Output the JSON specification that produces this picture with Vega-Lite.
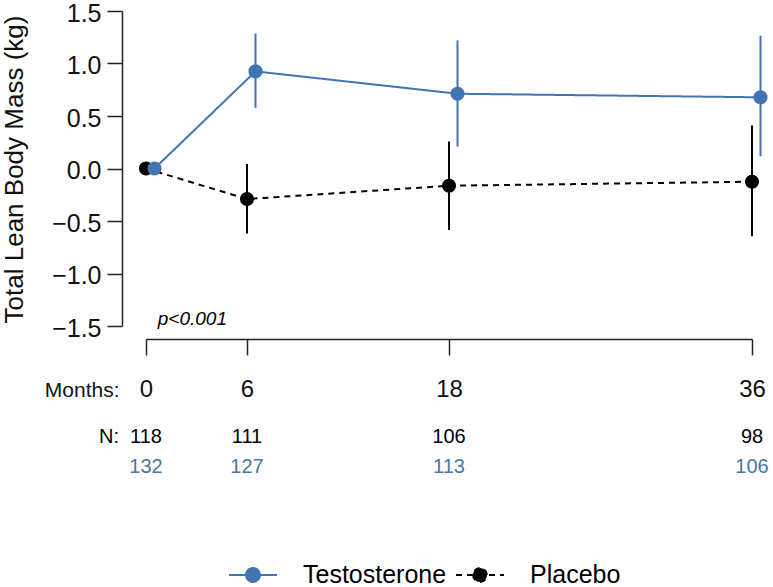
{
  "$schema": "https://vega.github.io/schema/vega-lite/v6.json",
  "width": 606,
  "height": 315,
  "autosize": {"type": "none"},
  "padding": {"left": 146, "top": 11, "right": 21, "bottom": 261},
  "background": "white",
  "config": {
    "font": "Liberation Sans",
    "view": {"stroke": null},
    "axis": {"grid": false, "domainColor": "#222222", "tickColor": "#222222", "labelColor": "#111111", "titleColor": "#111111", "titleFontWeight": "normal", "domainWidth": 1.5, "tickWidth": 1.5}
  },
  "datasets": {
    "stats": [
      {"month": 0, "group": "Placebo", "mean": 0, "lo": 0, "hi": 0, "n": 118},
      {"month": 6, "group": "Placebo", "mean": -0.291, "lo": -0.619, "hi": 0.043, "n": 111},
      {"month": 18, "group": "Placebo", "mean": -0.164, "lo": -0.585, "hi": 0.256, "n": 106},
      {"month": 36, "group": "Placebo", "mean": -0.126, "lo": -0.646, "hi": 0.41, "n": 98},
      {"month": 0, "group": "Testosterone", "mean": 0, "lo": 0, "hi": 0, "n": 132},
      {"month": 6, "group": "Testosterone", "mean": 0.925, "lo": 0.578, "hi": 1.285, "n": 127},
      {"month": 18, "group": "Testosterone", "mean": 0.712, "lo": 0.208, "hi": 1.22, "n": 113},
      {"month": 36, "group": "Testosterone", "mean": 0.678, "lo": 0.116, "hi": 1.265, "n": 106}
    ],
    "labels": [
      {"label": "N:"}
    ],
    "pval": [
      {"label": "p<0.001"}
    ]
  },
  "data": {"name": "stats"},
  "layer": [
    {
      "transform": [{"filter": "datum.group === 'Placebo'"}],
      "mark": {"type": "rule", "strokeWidth": 2, "color": "#000000"},
      "encoding": {
        "x": {
          "field": "month", "type": "quantitative",
          "scale": {"domain": [0, 36], "nice": false, "zero": false},
          "axis": {
            "values": [0, 6, 18, 36], "offset": 13, "tickSize": 16, "labelFontSize": 24, "labelPadding": 22, "labelFlush": false,
            "title": "Months:", "titleFontSize": 21, "titleX": -27, "titleY": 57, "titleAlign": "right", "titleBaseline": "alphabetic", "titleAnchor": null
          }
        },
        "y": {
          "field": "lo", "type": "quantitative",
          "scale": {"domain": [-1.5, 1.5], "nice": false, "zero": false},
          "axis": {
            "values": [-1.5, -1, -0.5, 0, 0.5, 1, 1.5], "format": ".1f", "offset": 24, "tickSize": 15, "labelFontSize": 25, "labelPadding": 6, "labelOffset": 2,
            "title": "Total Lean Body Mass (kg)", "titleFontSize": 26, "titleAngle": -90, "titleX": -100, "titleY": 158, "titleAlign": "center", "titleBaseline": "alphabetic"
          }
        },
        "y2": {"field": "hi"}
      }
    },
    {
      "transform": [{"filter": "datum.group === 'Placebo'"}],
      "mark": {"type": "line", "strokeWidth": 2},
      "encoding": {
        "x": {"field": "month", "type": "quantitative"},
        "y": {"field": "mean", "type": "quantitative"},
        "color": {
          "field": "group", "type": "nominal",
          "scale": {"domain": ["Testosterone", "Placebo"], "range": ["#4274b3", "#000000"]},
          "legend": {
            "title": null, "orient": "none", "direction": "horizontal", "legendX": 82, "legendY": 539, "padding": 0,
            "symbolType": "M-1,0L1,0M-0.29,0A0.29,0.29 0 1,0 0.29,0A0.29,0.29 0 1,0 -0.29,0Z",
            "symbolSize": 2304, "symbolStrokeWidth": 2, "labelFontSize": 25, "labelOffset": 25, "columnPadding": 5, "labelColor": "#000000",
            "encode": {"symbols": {"update": {"fill": {"scale": "color", "field": "value"}, "fillOpacity": {"value": 1}, "opacity": {"value": 1}}}}
          }
        },
        "strokeDash": {
          "field": "group", "type": "nominal",
          "scale": {"domain": ["Testosterone", "Placebo"], "range": [[1, 0], [6, 5]]},
          "legend": {
            "title": null, "orient": "none", "direction": "horizontal", "legendX": 82, "legendY": 539, "padding": 0,
            "symbolType": "M-1,0L1,0M-0.29,0A0.29,0.29 0 1,0 0.29,0A0.29,0.29 0 1,0 -0.29,0Z",
            "symbolSize": 2304, "symbolStrokeWidth": 2, "labelFontSize": 25, "labelOffset": 25, "columnPadding": 5, "labelColor": "#000000",
            "encode": {"symbols": {"update": {"fill": {"scale": "color", "field": "value"}, "fillOpacity": {"value": 1}, "opacity": {"value": 1}}}}
          }
        }
      }
    },
    {
      "transform": [{"filter": "datum.group === 'Placebo'"}],
      "mark": {"type": "point", "filled": true, "opacity": 1, "size": 200, "color": "#000000"},
      "encoding": {
        "x": {"field": "month", "type": "quantitative"},
        "y": {"field": "mean", "type": "quantitative"}
      }
    },
    {
      "transform": [{"filter": "datum.group === 'Testosterone'"}],
      "mark": {"type": "rule", "strokeWidth": 2, "color": "#4274b3", "xOffset": 8.5},
      "encoding": {
        "x": {"field": "month", "type": "quantitative"},
        "y": {"field": "lo", "type": "quantitative"},
        "y2": {"field": "hi"}
      }
    },
    {
      "transform": [{"filter": "datum.group === 'Testosterone'"}],
      "mark": {"type": "line", "strokeWidth": 2, "xOffset": 8.5},
      "encoding": {
        "x": {"field": "month", "type": "quantitative"},
        "y": {"field": "mean", "type": "quantitative"},
        "color": {"field": "group", "type": "nominal"},
        "strokeDash": {"field": "group", "type": "nominal"}
      }
    },
    {
      "transform": [{"filter": "datum.group === 'Testosterone'"}],
      "mark": {"type": "point", "filled": true, "opacity": 1, "size": 200, "color": "#4274b3", "xOffset": 8.5},
      "encoding": {
        "x": {"field": "month", "type": "quantitative"},
        "y": {"field": "mean", "type": "quantitative"}
      }
    },
    {
      "transform": [{"filter": "datum.group === 'Placebo'"}],
      "mark": {"type": "text", "fontSize": 20, "color": "#000000", "baseline": "middle", "align": "center"},
      "encoding": {
        "x": {"field": "month", "type": "quantitative"},
        "y": {"datum": -2.554},
        "text": {"field": "n", "type": "quantitative"}
      }
    },
    {
      "transform": [{"filter": "datum.group === 'Testosterone'"}],
      "mark": {"type": "text", "fontSize": 20, "color": "#4a78a0", "baseline": "middle", "align": "center"},
      "encoding": {
        "x": {"field": "month", "type": "quantitative"},
        "y": {"datum": -2.846},
        "text": {"field": "n", "type": "quantitative"}
      }
    },
    {
      "data": {"name": "labels"},
      "mark": {"type": "text", "fontSize": 20, "color": "#000000", "baseline": "middle", "align": "right"},
      "encoding": {
        "x": {"datum": -1.6, "type": "quantitative"},
        "y": {"datum": -2.554, "type": "quantitative"},
        "text": {"field": "label", "type": "nominal"}
      }
    },
    {
      "data": {"name": "pval"},
      "mark": {"type": "text", "fontSize": 19, "fontStyle": "italic", "color": "#000000", "baseline": "alphabetic", "align": "left"},
      "encoding": {
        "x": {"datum": 0.7, "type": "quantitative"},
        "y": {"datum": -1.49, "type": "quantitative"},
        "text": {"field": "label", "type": "nominal"}
      }
    }
  ]
}
